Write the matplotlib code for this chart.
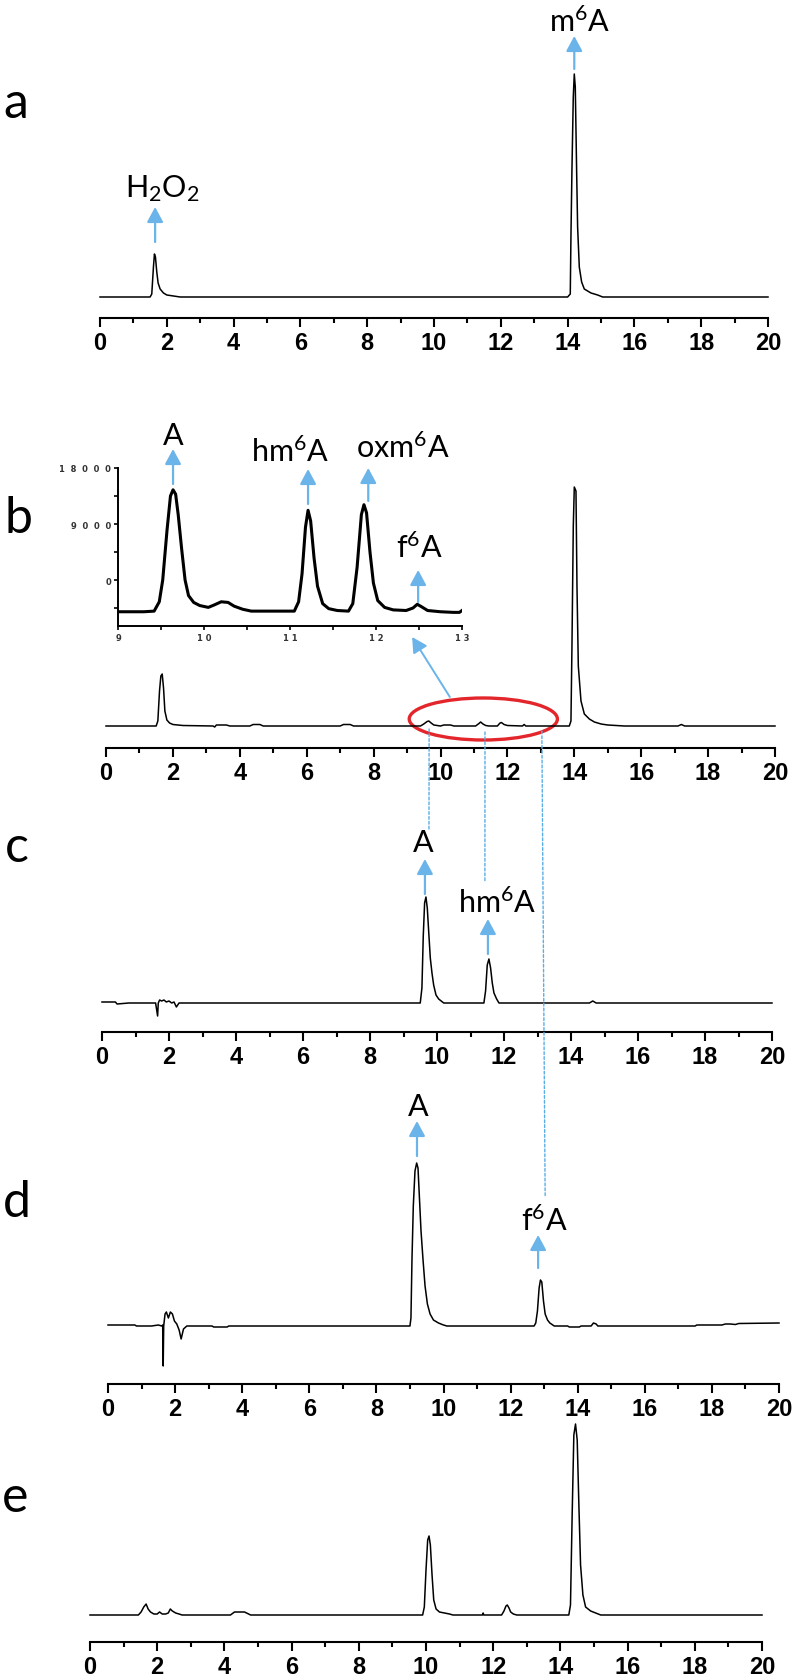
import numpy as np
import matplotlib.pyplot as plt
from matplotlib import font_manager
from matplotlib.patches import Ellipse, ConnectionPatch

# ---- data (retention time in min, detector signal in arbitrary units) ----
a_t = [0, 1.5, 1.55, 1.6, 1.63, 1.66, 1.7, 1.74, 1.8, 1.9, 2.0, 2.2, 2.4,
       14.0, 14.08, 14.1, 14.13, 14.17, 14.2, 14.23, 14.27, 14.3, 14.35, 14.42, 14.5, 14.7, 14.9, 15.05, 20]
a_s = [0, 0, 3, 30, 43, 40, 25, 14, 8, 4, 2, 1, 0,
       0, 3, 60, 127, 200, 223, 210, 127, 70, 30, 15, 8, 4, 2, 0, 0]

b_t = [0, 1.5, 1.55, 1.6, 1.64, 1.68, 1.72, 1.76, 1.82, 1.9, 2.0, 2.3,
       3.2, 3.25, 3.3, 3.4, 3.6, 3.7, 4.3, 4.4, 4.6, 4.7, 7.0, 7.1, 7.3, 7.4,
       9.4, 9.5, 9.6, 9.65, 9.72, 9.8, 9.9, 10.0, 10.1, 10.3, 10.4,
       11.05, 11.15, 11.2, 11.27, 11.35, 11.45, 11.7, 11.78, 11.82, 11.9, 12.0,
       12.45, 12.5, 12.55,
       13.85, 13.9, 13.93, 13.97, 14.0, 14.05, 14.08, 14.12, 14.2, 14.3, 14.45, 14.6, 14.8, 15.0, 15.5,
       17.1, 17.2, 17.3, 20]
b_s = [0, 0, 5, 35, 50, 52, 38, 15, 6, 3, 1.5, 0.5,
       0, -1, 1, 1, 1, 0, 0, 1.5, 1.5, 0, 0, 1.5, 1.5, 0,
       0, 2, 4.5, 5, 3, 1, 0.5, 0, 1, 1, 0,
       0, 2.5, 4, 2, 0.5, 0, 0, 3, 3.5, 1.5, 0.5,
       0, 1.5, 0,
       0, 5, 80, 200, 239, 235, 140, 60, 25, 12, 7, 4, 2, 1, 0,
       0, 1.5, 0, 0]

ins_t = [9.0, 9.3, 9.42, 9.48, 9.52, 9.57, 9.61, 9.64, 9.67, 9.7, 9.74, 9.78, 9.82, 9.88, 9.95,
         10.05, 10.12, 10.2, 10.28, 10.35, 10.45, 10.55,
         11.05, 11.1, 11.14, 11.18, 11.21, 11.24, 11.28, 11.32, 11.38, 11.45, 11.55,
         11.68, 11.73, 11.78, 11.83, 11.86, 11.89, 11.93, 11.97, 12.02, 12.1, 12.2,
         12.35, 12.43, 12.48, 12.53, 12.6, 12.75, 12.9, 12.97, 13.0]
ins_s = [-5100, -5100, -5000, -3500, 0, 8000, 13500, 14500, 13800, 10500, 5000, 0, -2500, -3600, -4100,
         -4400, -4000, -3500, -3600, -4200, -4700, -5000,
         -5000, -3500, 1000, 8500, 11200, 9500, 3500, -1000, -3800, -4600, -4900,
         -5000, -3800, 2000, 10500, 12100, 10800, 4500, -500, -3300, -4400, -4800,
         -4900, -4500, -3900, -4300, -4900, -5100, -5200, -5200, -4900]

c_t = [0, 0.4, 0.45, 0.8, 1.6, 1.66, 1.68, 1.72, 1.78, 1.85, 1.92, 2.0, 2.08, 2.15, 2.22, 2.3,
       9.5, 9.55, 9.59, 9.63, 9.67, 9.71, 9.76, 9.8, 9.85, 9.9, 9.97, 10.05, 10.2,
       11.4, 11.45, 11.5, 11.55, 11.6, 11.65, 11.7, 11.78, 11.85,
       14.55, 14.65, 14.75, 20]
c_s = [1, 1, -1, 0, 0, -13, 0, 3, 2, 3, 1, 2, 0, 1, -4, 0,
       0, 15, 67, 100, 106, 95, 67, 45, 30, 18, 8, 4, 0,
       0, 12, 38, 44, 35, 20, 10, 4, 0,
       0, 2, 0, 0]

d_t = [0, 0.8, 0.85, 1.3, 1.5, 1.6, 1.63, 1.645, 1.66, 1.7, 1.74, 1.8, 1.86, 1.92, 1.98,
       2.05, 2.12, 2.18, 2.25, 2.35, 3.1, 3.15, 3.55, 3.6,
       9.0, 9.03, 9.06, 9.1, 9.15, 9.2, 9.24, 9.28, 9.33, 9.39, 9.45, 9.52, 9.6, 9.7, 9.85, 10.0, 10.1,
       12.7, 12.75, 12.8, 12.85, 12.89, 12.93, 12.98, 13.03, 13.1, 13.17, 13.3,
       13.7, 13.75, 14.05, 14.1, 14.4, 14.47, 14.55, 14.6,
       17.5, 17.55, 18.3, 18.4, 18.55, 18.7, 18.8, 20]
d_s = [1, 1, 0, 0, 1, 0, 1, -40, 0, 12, 14, 8, 14, 12, 5,
       2, -4, -13, -3, 0, 0, -1, -1, 0,
       0, 8, 66, 120, 155, 163, 158, 130, 95, 66, 40, 22, 12, 6, 3, 1, 0,
       0, 3, 15, 38, 46, 44, 25, 12, 6, 3, 0,
       0, -1, -1, 0, 0, 3, 2, 0,
       0, 1, 1, 2, 2, 1.5, 2.5, 3]

e_t = [0, 1.44, 1.52, 1.6, 1.67, 1.73, 1.8, 1.9, 2.0, 2.07, 2.15, 2.25, 2.33, 2.39, 2.45, 2.55, 2.65, 2.74,
       4.18, 4.3, 4.6, 4.78,
       9.9, 9.95, 10.0, 10.05, 10.09, 10.13, 10.18, 10.23, 10.3, 10.4, 10.55, 10.7, 10.8,
       11.68, 11.7, 11.72,
       12.25, 12.32, 12.38, 12.42, 12.47, 12.52, 12.6, 12.7,
       14.25, 14.3, 14.35, 14.4, 14.45, 14.5, 14.55, 14.6, 14.67, 14.75, 14.9, 15.05, 15.2, 20]
e_s = [0, 0, 3, 8, 11, 6, 3, 1, 1, 3, 1, 1, 2, 6, 4, 2, 1, 0,
       0, 3, 3, 0,
       0, 8, 45, 75, 79, 70, 40, 15, 6, 3, 2, 1, 0,
       0, 2, 0,
       0, 4, 9, 10, 7, 3, 1, 0,
       0, 10, 100, 180, 191, 175, 110, 50, 20, 8, 4, 2, 0, 0]

x_major = list(range(0, 21, 2))
inset_xticks = [9, 10, 11, 12, 13]
inset_yticks = [0, 9000, 18000]

# peak labels: (text, label time, label height, arrow time, arrow start, arrow end)
a_labels = [(r"H$_\mathregular{2}$O$_\mathregular{2}$", 1.86, 101, 1.65, 55, 90),
            (r"m$^\mathregular{6}$A", 14.37, 266, 14.2, 228, 261)]
ins_labels = [("A", 9.64, 21860, 9.64, 15430, 21050),
              (r"hm$^\mathregular{6}$A", 11.0, 19120, 11.21, 12210, 17840),
              (r"oxm$^\mathregular{6}$A", 12.31, 19770, 11.91, 12700, 18000),
              (r"f$^\mathregular{6}$A", 12.5, 3700, 12.49, -3540, 1610)]
c_labels = [("A", 9.58, 152, 9.64, 109, 144),
            (r"hm$^\mathregular{6}$A", 11.79, 91, 11.52, 49, 84)]
d_labels = [("A", 9.24, 211, 9.21, 170, 205),
            (r"f$^\mathregular{6}$A", 13.0, 96, 12.82, 58, 91)]

# ---- fonts / style ----
names = {f.name for f in font_manager.fontManager.ttflist}
tick_font = 'Liberation Sans Narrow' if 'Liberation Sans Narrow' in names else 'Liberation Sans'
label_font = 'Lato'
plt.rcParams['mathtext.fontset'] = 'custom'
plt.rcParams['mathtext.rm'] = label_font
plt.rcParams['mathtext.it'] = label_font + ':italic'
plt.rcParams['mathtext.bf'] = label_font + ':bold'

blue = '#6ab4ea'
red = '#e3262b'

W, H = 792, 1681
fig = plt.figure(figsize=(W / 100, H / 100), dpi=100)


def px_axes(x0, x1, ytop, ybot):
    return fig.add_axes([x0 / W, 1 - ybot / H, (x1 - x0) / W, (ybot - ytop) / H])


def main_panel(t, s, x0, x1, ytop, axis_y, base_y):
    ax = px_axes(x0, x1, ytop, axis_y)
    ax.patch.set_alpha(0)
    ax.plot(t, s, color='k', lw=1.1, clip_on=False)
    ax.set_xlim(0, 20)
    ax.set_ylim(-(axis_y - base_y), base_y - ytop)
    for sp in ['left', 'right', 'top']:
        ax.spines[sp].set_visible(False)
    ax.spines['bottom'].set_linewidth(1.5)
    ax.set_yticks([])
    ax.set_xticks(x_major, labels=[str(v) for v in x_major], fontsize=17,
                  fontweight='bold', family=tick_font)
    ax.set_xticks(range(1, 20, 2), minor=True)
    ax.tick_params(axis='x', which='major', length=6.5, width=1.5, pad=3)
    ax.tick_params(axis='x', which='minor', length=3.5, width=1.5)
    return ax


def label_peaks(ax, labels):
    for text, tx, ty, at, y0, y1 in labels:
        ax.text(tx, ty, text, ha='center', va='baseline', fontsize=22,
                family=label_font, clip_on=False)
        ax.annotate('', xy=(at, y1), xytext=(at, y0), annotation_clip=False,
                    arrowprops=dict(arrowstyle='-|>,head_width=0.35,head_length=0.65',
                                    color=blue, lw=1.6, shrinkA=0, shrinkB=0,
                                    mutation_scale=14))


axa = main_panel(a_t, a_s, 100, 768, 0, 319, 298)
axb = main_panel(b_t, b_s, 106, 775, 470, 749, 727)
axc = main_panel(c_t, c_s, 102, 772, 800, 1033, 1004)
axd = main_panel(d_t, d_s, 108, 779, 1110, 1385, 1327)
axe = main_panel(e_t, e_s, 90, 762, 1400, 1643, 1616)

label_peaks(axa, a_labels)
label_peaks(axc, c_labels)
label_peaks(axd, d_labels)

# inset of panel b
ins = px_axes(118, 462, 469, 627)
ins.patch.set_alpha(0)
ins.plot(ins_t, ins_s, color='k', lw=2.2)
ins.set_xlim(9, 13)
ins.set_ylim(-7390, 18000)
for sp in ['right', 'top']:
    ins.spines[sp].set_visible(False)
ins.spines['left'].set_linewidth(1.4)
ins.spines['bottom'].set_linewidth(1.4)
ins.set_xticks(inset_xticks, labels=[' '.join(str(v)) for v in inset_xticks],
               fontsize=6, fontweight='bold', color='#333333')
ins.set_xticks(np.arange(9.5, 13, 1), minor=True)
ins.set_yticks(inset_yticks, labels=['  '.join(str(v)) for v in inset_yticks],
               fontsize=6, fontweight='bold', color='#333333')
ins.set_yticks([-4500, 4500, 13500], minor=True)
ins.tick_params(which='both', length=3, width=1.2, pad=2)
label_peaks(ins, ins_labels)

# zoom marker on panel b
axb.add_patch(Ellipse((11.28, 7), 4.43, 42, fill=False, edgecolor=red, lw=2.4, clip_on=False))
axb.annotate('', xy=(12.42, -9160), xycoords=ins.transData,
             xytext=(10.28, 29), textcoords=axb.transData, annotation_clip=False,
             arrowprops=dict(arrowstyle='-|>,head_width=0.35,head_length=0.65',
                             color=blue, lw=1.4, shrinkA=0, shrinkB=0, mutation_scale=14))

# dotted guide lines between panels
links = [(9.66, -3, axc, 9.76, 172), (11.33, -6, axc, 11.43, 121), (13.03, -5, axd, 13.03, 129)]
for tb, yb, axt, tt, yt in links:
    fig.add_artist(ConnectionPatch(xyA=(tb, yb), coordsA=axb.transData,
                                   xyB=(tt, yt), coordsB=axt.transData,
                                   color='#5aaee6', lw=1.0, linestyle=(0, (2, 1.5))))

# panel letters
for letter, lx, ly in [('a', 3, 118), ('b', 5, 533), ('c', 5, 862), ('d', 3, 1217), ('e', 2, 1512)]:
    fig.text(lx / W, 1 - ly / H, letter, fontsize=36, family=label_font, ha='left', va='baseline')

fig.savefig('out.png', dpi=100)
